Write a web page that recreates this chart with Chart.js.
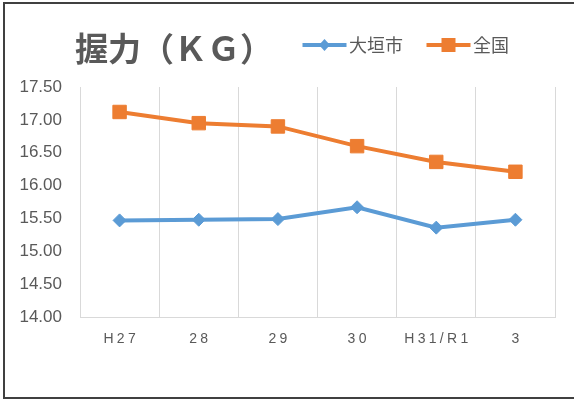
<!DOCTYPE html>
<html>
<head>
<meta charset="utf-8">
<script src="https://cdn.jsdelivr.net/npm/chart.js@4/dist/chart.umd.min.js"></script>
<style>
html, body { margin: 0; padding: 0; background: #fff; }
#wrap { position: relative; width: 574px; height: 401px; overflow: hidden; }
#frame { position: absolute; left: 3px; top: 2px; width: 620px; height: 397px; border: 2px solid #404040; border-right: none; box-sizing: border-box; }
#title { position: absolute; left: 75px; top: 26px; font: bold 33px "Noto Sans CJK JP"; letter-spacing: 0px; color: #595959; line-height: 42px; white-space: nowrap; }
canvas { position: absolute; left: 0; top: 0; }
</style>
</head>
<body>
<div id="wrap">
  <canvas id="myChart" width="574" height="401"></canvas>
  <div id="frame"></div>
  <div id="title">握力（ＫＧ）</div>
</div>
<script>
const years = ['H27', '28', '29', '30', 'H31/R1', '3'];
const ogaki = [15.47, 15.48, 15.49, 15.67, 15.36, 15.48];
const zenkoku = [17.12, 16.95, 16.90, 16.60, 16.36, 16.21];
const seriesNames = ['大垣市', '全国'];
const seriesColors = ['#5B9BD5', '#ED7D31'];
const yMin = 14, yMax = 17.5, yStep = 0.5;

// legend mark: short line with the marker in the middle
function LegendMark(color, style){
    const c = document.createElement('canvas');
    c.width = 60; c.height = 20;
    const g = c.getContext('2d');
    g.strokeStyle = color; g.fillStyle = color; g.lineWidth = 4;
    g.beginPath(); g.moveTo(14.5, 10); g.lineTo(58.5, 10); g.stroke();
    g.beginPath();
    if (style === 'rectRot'){
        g.moveTo(36.5, 4); g.lineTo(42, 10); g.lineTo(36.5, 16); g.lineTo(31, 10); g.closePath();
    } else {
        g.rect(29.5, 3, 14, 14);
    }
    g.fill();
    return c;
}
const marks = [LegendMark(seriesColors[0], 'rectRot'), LegendMark(seriesColors[1], 'rect')];

// legend sits on the title row, right of the title
const legendPlace = {
    id: 'legendPlace',
    afterLayout(chart){
        const lg = chart.legend;
        const w = lg.width, h = lg.height;
        lg.left = 279; lg.right = lg.left + w;
        lg.top = 19; lg.bottom = lg.top + h;
    }
};

// x labels are letter-spaced in the picture
function SpacedLabels(scale){
    if (scale._spaced) return;
    const orig = scale.drawLabels.bind(scale);
    scale.drawLabels = function(area){
        const c = this.ctx;
        c.save();
        c.letterSpacing = '3.3px';
        orig(area);
        c.restore();
    };
    scale._spaced = true;
}

const ctx = document.getElementById('myChart').getContext('2d');
new Chart(ctx, {
    type: 'line',
    data: {
        labels: years,
        datasets: [
            {
                label: seriesNames[0],
                data: ogaki,
                borderColor: seriesColors[0],
                backgroundColor: seriesColors[0],
                borderWidth: 4,
                tension: 0,
                pointStyle: 'rectRot',
                pointRadius: 6.5,
                pointBorderWidth: 1
            },
            {
                label: seriesNames[1],
                data: zenkoku,
                borderColor: seriesColors[1],
                backgroundColor: seriesColors[1],
                borderWidth: 4,
                tension: 0,
                pointStyle: 'rect',
                pointRadius: 9.5,
                pointBorderWidth: 1
            }
        ]
    },
    options: {
        responsive: false,
        animation: false,
        events: [],
        layout: { autoPadding: false, padding: { left: 19.5, right: 19, top: 42, bottom: 40 } },
        plugins: {
            tooltip: { enabled: false },
            title: { display: false },
            legend: {
                display: true,
                position: 'top',
                align: 'start',
                labels: {
                    usePointStyle: true,
                    pointStyleWidth: 44,
                    padding: 17,
                    color: '#595959',
                    font: { family: '"Noto Sans CJK JP"', size: 18 },
                    generateLabels: chart => chart.data.datasets.map((ds, i) => ({
                        text: ds.label,
                        pointStyle: marks[i],
                        fillStyle: ds.backgroundColor,
                        strokeStyle: ds.borderColor,
                        lineWidth: 0,
                        fontColor: '#595959',
                        hidden: false,
                        datasetIndex: i
                    }))
                }
            }
        },
        scales: {
            x: {
                type: 'category',
                offset: true,
                grid: { display: true, offset: true, color: '#d9d9d9', lineWidth: 1, drawTicks: false },
                border: { display: true, color: '#d9d9d9', width: 1 },
                afterFit: SpacedLabels,
                ticks: {
                    autoSkip: false,
                    maxRotation: 0,
                    padding: 13.6,
                    labelOffset: 1.6,
                    color: '#595959',
                    font: { family: '"Liberation Sans"', size: 14 }
                }
            },
            y: {
                min: yMin,
                max: yMax,
                grid: { display: false, drawTicks: false },
                border: { display: false },
                afterFit: s => { s.width = 60.5; },
                ticks: {
                    stepSize: yStep,
                    padding: 18,
                    color: '#595959',
                    font: { family: '"Liberation Sans"', size: 17 },
                    callback: v => v.toFixed(2)
                }
            }
        }
    },
    plugins: [legendPlace]
});
</script>
</body>
</html>
